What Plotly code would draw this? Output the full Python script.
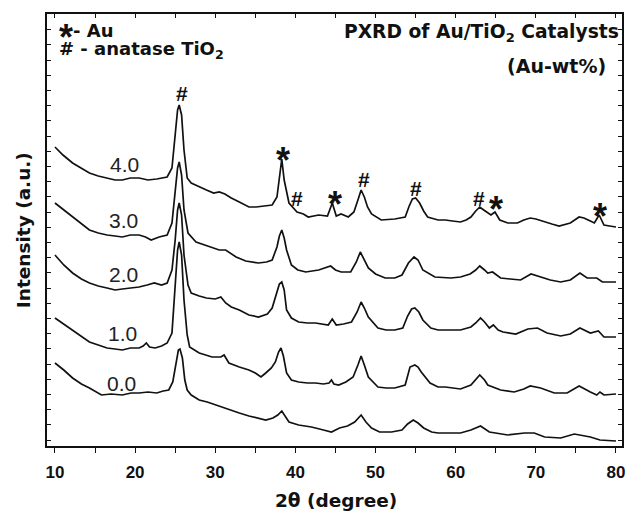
import plotly.graph_objects as go

# ---- data (2-theta in degrees, stacked intensity in a.u.) ----
two_theta_40 = [10.0, 11.0, 12.2, 13.2, 14.3, 15.4, 16.5, 17.5, 18.4, 19.4, 20.5, 21.6, 22.7, 23.5, 24.0, 24.6, 25.0, 25.3, 25.5, 25.8, 26.1, 26.5, 27.0, 28.0, 28.9, 29.8, 30.5, 31.2, 32.0, 33.0, 34.2, 35.1, 36.2, 37.1, 37.7, 38.0, 38.3, 38.6, 39.2, 40.2, 41.0, 41.6, 42.9, 44.0, 44.6, 45.1, 45.7, 46.6, 47.3, 47.8, 48.2, 48.6, 49.0, 49.5, 50.7, 52.4, 53.7, 54.2, 54.6, 55.0, 55.5, 56.0, 56.5, 57.8, 58.7, 59.6, 60.6, 61.3, 61.9, 62.5, 63.0, 63.5, 64.0, 64.4, 64.9, 65.5, 66.5, 67.7, 68.5, 69.3, 70.0, 71.1, 72.0, 72.9, 74.3, 75.4, 76.0, 76.8, 77.3, 77.9, 78.5, 79.2, 80.0]
intensity_40 = [299, 291, 283, 278, 273, 270, 268, 266, 266, 268, 268, 266, 267, 268, 269, 278, 311, 336, 341, 331, 296, 268, 263, 259, 256, 253, 254, 252, 248, 244, 239, 239, 240, 241, 249, 266, 287, 266, 243, 234, 232, 229, 231, 230, 243, 230, 232, 229, 234, 246, 256, 249, 239, 232, 226, 227, 229, 240, 247, 248, 243, 235, 229, 226, 226, 225, 224, 226, 229, 235, 239, 236, 233, 231, 234, 226, 223, 223, 226, 228, 227, 224, 222, 220, 223, 229, 228, 225, 223, 231, 221, 220, 219]

two_theta_30 = [10.0, 11.1, 12.2, 13.3, 14.3, 15.4, 16.5, 17.5, 18.4, 19.4, 20.5, 21.3, 22.0, 23.0, 24.0, 24.6, 25.0, 25.3, 25.5, 25.8, 26.1, 26.6, 27.6, 28.6, 29.6, 30.5, 31.3, 32.0, 32.6, 33.8, 35.4, 36.4, 37.1, 37.7, 38.0, 38.3, 38.6, 38.9, 39.5, 40.3, 41.3, 42.9, 43.8, 44.4, 45.0, 45.7, 46.9, 47.6, 48.1, 48.5, 49.1, 50.0, 51.2, 52.4, 53.3, 54.1, 54.8, 55.3, 55.9, 57.4, 59.4, 60.6, 61.8, 62.5, 63.0, 63.6, 64.0, 64.6, 65.6, 66.8, 68.1, 69.4, 70.6, 71.8, 73.1, 74.3, 75.5, 76.4, 77.6, 78.3, 78.9, 80.0]
intensity_30 = [243, 236, 229, 222, 216, 213, 211, 210, 209, 211, 211, 209, 206, 209, 211, 223, 251, 278, 284, 271, 236, 213, 204, 201, 198, 196, 196, 192, 189, 185, 183, 184, 186, 199, 210, 216, 208, 196, 181, 176, 174, 176, 178, 180, 176, 174, 174, 184, 194, 188, 178, 172, 168, 168, 171, 183, 189, 186, 176, 169, 168, 169, 172, 176, 180, 176, 173, 174, 168, 167, 166, 172, 169, 166, 164, 166, 173, 168, 168, 164, 164, 164]

two_theta_20 = [10.0, 11.1, 12.2, 13.3, 14.3, 15.4, 16.5, 17.5, 18.4, 19.4, 20.5, 21.5, 22.4, 23.3, 24.0, 24.6, 25.0, 25.3, 25.5, 25.8, 26.1, 26.6, 27.0, 28.0, 28.9, 30.0, 30.7, 31.3, 32.0, 33.0, 34.2, 35.4, 36.5, 37.1, 37.7, 38.0, 38.3, 38.6, 38.9, 39.5, 40.4, 41.5, 42.5, 43.5, 44.1, 44.6, 45.1, 46.0, 47.0, 47.7, 48.2, 48.6, 49.1, 50.3, 51.3, 52.4, 53.4, 54.0, 54.5, 54.9, 55.4, 55.9, 56.9, 57.8, 58.7, 60.6, 61.9, 62.5, 63.1, 63.6, 64.2, 64.7, 65.3, 65.9, 67.5, 69.0, 70.2, 71.4, 73.1, 74.3, 75.5, 76.8, 77.8, 78.5, 80.0]
intensity_20 = [191, 181, 173, 167, 163, 160, 158, 156, 157, 158, 159, 161, 163, 161, 163, 176, 206, 236, 243, 231, 191, 161, 153, 150, 148, 147, 149, 143, 139, 136, 131, 129, 132, 138, 154, 162, 164, 156, 136, 128, 124, 123, 123, 122, 121, 127, 121, 122, 124, 134, 144, 138, 129, 118, 116, 116, 118, 130, 137, 138, 134, 126, 118, 116, 116, 116, 119, 123, 128, 124, 118, 121, 116, 114, 112, 117, 118, 113, 110, 112, 118, 113, 115, 109, 109]

two_theta_10 = [10.0, 11.1, 12.2, 13.3, 14.3, 15.4, 16.5, 17.5, 18.4, 19.4, 20.5, 21.0, 21.4, 21.8, 22.5, 23.3, 24.0, 24.6, 25.0, 25.3, 25.5, 25.8, 26.1, 26.5, 26.8, 28.0, 29.6, 30.7, 31.1, 31.7, 33.0, 34.2, 35.0, 35.7, 36.3, 37.0, 37.5, 37.9, 38.2, 38.5, 38.9, 39.5, 40.4, 41.5, 42.5, 43.5, 44.2, 44.5, 44.8, 45.4, 46.3, 47.2, 47.8, 48.2, 48.6, 49.1, 50.3, 51.3, 52.4, 53.7, 54.3, 54.9, 55.3, 55.7, 56.8, 57.8, 58.7, 60.6, 61.9, 62.5, 63.0, 63.6, 64.0, 65.6, 67.3, 68.5, 69.3, 70.6, 72.3, 73.9, 75.4, 76.8, 77.6, 78.0, 78.5, 80.0]
intensity_10 = [128, 122, 116, 110, 104, 101, 98, 97, 96, 98, 98, 100, 103, 99, 98, 100, 103, 113, 156, 196, 204, 191, 146, 111, 99, 93, 89, 89, 91, 83, 79, 76, 73, 69, 73, 78, 84, 94, 98, 90, 73, 66, 64, 63, 63, 62, 63, 66, 62, 61, 64, 69, 81, 90, 81, 69, 59, 58, 58, 61, 79, 81, 79, 74, 63, 59, 59, 57, 61, 66, 71, 66, 61, 56, 54, 57, 60, 58, 53, 53, 60, 54, 51, 54, 51, 52]

two_theta_00 = [10.0, 11.1, 12.2, 13.3, 14.3, 15.0, 15.8, 17.0, 18.4, 19.5, 20.5, 21.6, 22.7, 23.5, 24.2, 24.7, 25.1, 25.4, 25.6, 25.9, 26.2, 26.5, 27.0, 28.0, 29.0, 30.1, 31.7, 33.0, 34.2, 35.4, 36.3, 37.2, 37.8, 38.3, 38.7, 39.2, 40.4, 42.0, 43.5, 44.5, 45.5, 46.5, 47.4, 48.2, 48.8, 49.5, 50.5, 52.0, 53.3, 54.0, 54.7, 55.3, 56.0, 57.0, 57.8, 58.7, 60.6, 61.9, 63.1, 64.2, 65.0, 66.5, 68.6, 69.8, 71.1, 73.1, 74.8, 75.5, 76.8, 78.0, 80.0]
intensity_00 = [83, 76, 68, 62, 58, 55, 51, 52, 51, 53, 53, 54, 53, 55, 56, 64, 84, 96, 97, 88, 66, 56, 51, 46, 44, 41, 36, 33, 30, 28, 26, 28, 31, 35, 30, 24, 21, 19, 16, 14, 18, 20, 24, 31, 24, 18, 14, 14, 16, 22, 26, 23, 18, 14, 13, 13, 13, 16, 20, 14, 13, 11, 13, 13, 9, 8, 12, 11, 9, 6, 5]

sample_labels = ["4.0", "3.0", "2.0", "1.0", "0.0"]
label_x = [18.7, 18.6, 18.6, 18.4, 18.3]
label_y = [282, 226, 172, 113, 63]

anatase_x = [25.8, 40.15, 48.5, 55.1, 62.9]
anatase_y = [353, 248, 267, 258, 248]
gold_x = [38.5, 45.0, 65.0, 78.0]
gold_y = [295, 251, 246, 239]

x_ticks = [10, 20, 30, 40, 50, 60, 70, 80]

# ---- figure ----
BOLD = "DejaVu Sans"
TICKF = "Liberation Sans"
INK = "#111111"

fig = go.Figure()
series = [(two_theta_40, intensity_40), (two_theta_30, intensity_30),
          (two_theta_20, intensity_20), (two_theta_10, intensity_10),
          (two_theta_00, intensity_00)]
for (xs, ys), name in zip(series, sample_labels):
    fig.add_trace(go.Scatter(x=xs, y=ys, mode="lines", name=name,
                             line=dict(color=INK, width=1.7),
                             showlegend=False, hoverinfo="skip"))

# carrier trace for the top (inside-tick) axis
fig.add_trace(go.Scatter(x=two_theta_00, y=intensity_00, xaxis="x2", mode="lines",
                         line=dict(width=0, color="rgba(0,0,0,0)"),
                         showlegend=False, hoverinfo="skip"))

ann = []
for t, lx, ly in zip(sample_labels, label_x, label_y):
    ann.append(dict(x=lx, y=ly, xref="x", yref="y", text=t, showarrow=False,
                    font=dict(family=TICKF, size=21, color="#222222"),
                    xanchor="center", yanchor="middle"))
for hx, hy in zip(anatase_x, anatase_y):
    ann.append(dict(x=hx, y=hy, xref="x", yref="y", text="<b>#</b>", showarrow=False,
                    font=dict(family=TICKF, size=21, color=INK),
                    xanchor="center", yanchor="middle"))
for sx, sy in zip(gold_x, gold_y):
    ann.append(dict(x=sx, y=sy, xref="x", yref="y", text="<b>*</b>", showarrow=False,
                    font=dict(family=TICKF, size=36, color=INK),
                    xanchor="center", yanchor="middle", yshift=-9))

# legend-like text block (top left), one text element
legend_text = ("<b><span style='font-family:Liberation Sans;font-size:36px;"
               "baseline-shift:-13px'>*</span>"
               "<span style='font-size:18px'>- Au</span><br>"
               "<span style='font-size:18px'># - anatase TiO<sub>2</sub></span></b>")
ann.append(dict(x=0.0173, y=0.9405, xref="paper", yref="paper", text=legend_text,
                showarrow=False, align="left",
                font=dict(family=BOLD, size=14, color=INK),
                xanchor="left", yanchor="middle"))
# title (top right)
ann.append(dict(x=0.998, y=0.955, xref="paper", yref="paper",
                text="<b>PXRD of Au/TiO<sub>2</sub> Catalysts</b>",
                showarrow=False, font=dict(family=BOLD, size=18.7, color=INK),
                xanchor="right", yanchor="middle"))
ann.append(dict(x=0.9758, y=0.8796, xref="paper", yref="paper",
                text="<b>(Au-wt%)</b>",
                showarrow=False, font=dict(family=BOLD, size=19, color=INK),
                xanchor="right", yanchor="middle"))
# axis titles
ann.append(dict(x=0.502, y=-0.125, xref="paper", yref="paper",
                text="<b>2θ (degree)</b>", showarrow=False,
                font=dict(family=BOLD, size=18.5, color=INK),
                xanchor="center", yanchor="middle"))
ann.append(dict(x=-0.0415, y=0.5, xref="paper", yref="paper",
                text="<b>Intensity (a.u.)</b>", showarrow=False, textangle=-90,
                font=dict(family=BOLD, size=18.5, color=INK),
                xanchor="center", yanchor="middle"))

xr = [9.007, 80.75]
fig.update_layout(
    width=632, height=512,
    margin=dict(l=47, r=7, t=14, b=66),
    paper_bgcolor="white", plot_bgcolor="white",
    annotations=ann,
    xaxis=dict(range=xr, tickmode="array", tickvals=x_ticks,
               ticktext=[f"<b>{v}</b>" for v in x_ticks],
               ticks="outside", ticklen=5, tickwidth=1.3, tickcolor=INK,
               ticklabelstandoff=5,
               minor=dict(ticks="outside", dtick=5, tick0=0, ticklen=5,
                          tickwidth=1.3, tickcolor=INK, showgrid=False),
               showline=True, linecolor=INK, linewidth=1.6, mirror=True,
               showgrid=False, zeroline=False,
               tickfont=dict(family=TICKF, size=17, color=INK)),
    xaxis2=dict(range=xr, overlaying="x", side="top", anchor="y",
                ticks="inside", dtick=5, tick0=0, ticklen=4, tickwidth=1.2,
                tickcolor=INK, showticklabels=False, showline=False,
                showgrid=False, zeroline=False),
    yaxis=dict(range=[0, 432], showticklabels=False,
               ticks="inside", tick0=6, dtick=15.2, ticklen=4, tickwidth=1.2,
               tickcolor=INK, showline=True, linecolor=INK,
               linewidth=1.6, mirror="ticks", showgrid=False, zeroline=False),
)

fig.write_html("out.html")
